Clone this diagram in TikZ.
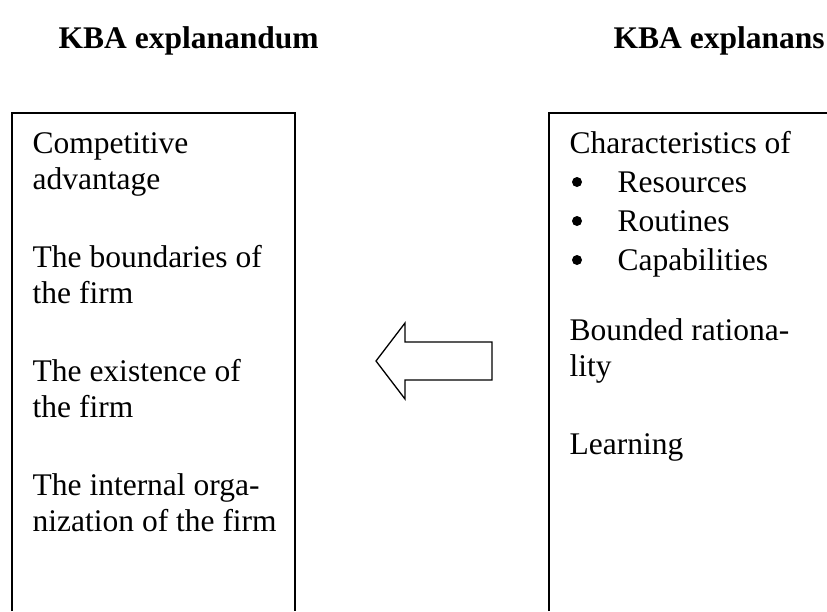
\documentclass[tikz,border=0pt]{standalone}
\usepackage{fontspec}
\setmainfont{Liberation Serif}
\begin{document}
\begin{tikzpicture}[x=1pt,y=-1pt,line width=1.3pt,
    txt/.style={anchor=base west,inner sep=0pt,align=left,
      font=\fontsize{31.5}{36}\selectfont},
    head/.style={anchor=base west,inner sep=0pt,
      font=\fontsize{31.5}{36}\selectfont\bfseries},
    dotmark/.style={circle,fill,inner sep=0pt,minimum size=10pt}]
  \useasboundingbox (0,0) rectangle (827,611);
  \node[head] (hleft) at (58,48) {KBA explanandum};
  \node[head] (hright) at (613,48) {KBA explanans};
  % explanandum box (base anchor = last line)
  \draw (12,611) -- (12,113) -- (295,113) -- (295,611);
  \node[txt] (adv) at (32,189) {Competitive\\advantage};
  \node[txt] (bound) at (32,303) {The boundaries of\\the firm};
  \node[txt] (exist) at (32,417) {The existence of\\the firm};
  \node[txt] (intorg) at (32,531) {The internal orga-\\nization of the firm};
  % explanans box
  \draw (549,611) -- (549,113) -- (827,113);
  \node[txt] (char) at (569,153) {Characteristics of};
  \foreach \t [count=\i] in {Resources,Routines,Capabilities}{
    \node[dotmark] (dot\i) at (577,143+39*\i) {};
    \node[txt] (res\i) at (617,153+39*\i) {\t};
  }
  \node[txt] (bounded) at (569,376) {Bounded rationa-\\lity};
  \node[txt] (learn) at (569,454) {Learning};
  % block arrow
  \draw (492,342) -- (405,342) -- (405,323) -- (376,361) -- (405,399)
    -- (405,380) -- (492,380) -- cycle;
\end{tikzpicture}
\end{document}
